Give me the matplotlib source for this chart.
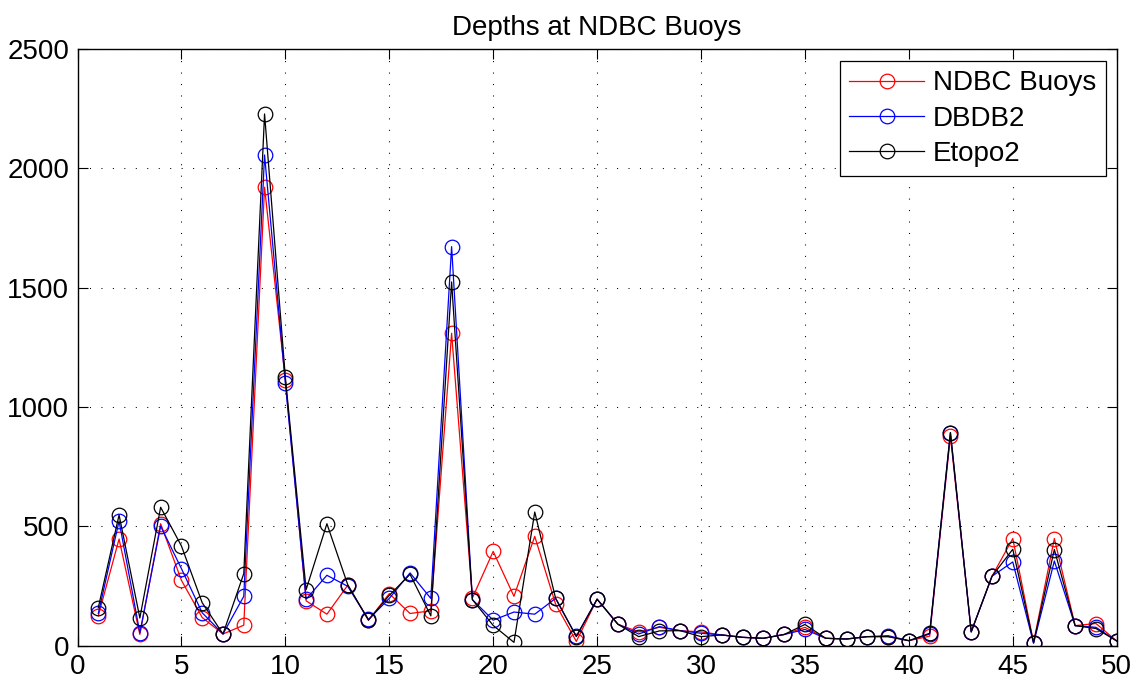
import matplotlib
matplotlib.use('Agg')
import matplotlib.pyplot as plt

# 浮标编号
buoy_idx = list(range(1, 51))

# 三种来源的水深
ndbc_depth = [125, 447, 47, 511, 274, 118, 49, 86, 1921, 1115,
              188, 132, 253, 107, 218, 135, 146, 1309, 200, 395,
              207, 458, 175, 18, 195, 90, 58, 77, 63, 58,
              45, 35, 31, 47, 77, 31, 28, 38, 38, 21,
              40, 878, 58, 291, 449, 13, 449, 84, 93, 20]
dbdb2_depth = [135, 522, 54, 501, 323, 138, 49, 207, 2056, 1100,
               195, 295, 249, 110, 198, 305, 198, 1672, 193, 107,
               141, 132, 198, 40, 195, 90, 49, 80, 63, 52,
               45, 35, 31, 47, 68, 31, 28, 38, 42, 21,
               49, 893, 58, 291, 351, 10, 355, 84, 77, 20]
etopo2_depth = [159, 548, 116, 580, 418, 180, 49, 302, 2228, 1125,
                235, 511, 256, 107, 211, 299, 125, 1524, 193, 85,
                14, 560, 200, 38, 195, 90, 38, 62, 63, 38,
                45, 35, 31, 47, 89, 31, 28, 38, 38, 21,
                52, 893, 58, 291, 404, 13, 403, 84, 72, 20]

series_labels = ['NDBC Buoys', 'DBDB2', 'Etopo2']
series_colors = ['red', 'blue', 'black']

plt.rcParams['font.family'] = ['Liberation Sans', 'DejaVu Sans']

fig = plt.figure(figsize=(11.38, 6.88), dpi=100)
ax = fig.add_axes([77.5 / 1138, 1 - 645.7 / 688, (1116.7 - 77.5) / 1138, (645.7 - 49) / 688])

# 绘制三条曲线
for vals, lab, col in zip([ndbc_depth, dbdb2_depth, etopo2_depth], series_labels, series_colors):
    ax.plot(buoy_idx, vals, '-o', color=col, label=lab, linewidth=0.9,
            markersize=10.5, markerfacecolor='none', markeredgecolor=col, markeredgewidth=0.9)

ax.set_xlim(0, 50)
ax.set_ylim(0, 2500)
ax.set_xticks(range(0, 51, 5))
ax.set_yticks(range(0, 2501, 500))
ax.tick_params(direction='in', length=7, width=0.8, labelsize=20, top=True, right=True, pad=6)
for s in ax.spines.values():
    s.set_linewidth(1.0)

# MATLAB 风格的点状网格
ax.grid(True, color='black', linestyle=(0, (1, 10)), linewidth=0.75)
ax.set_axisbelow(True)

ax.set_title('Depths at NDBC Buoys', fontsize=20, pad=10)

leg = ax.legend(loc='upper right', fontsize=20, fancybox=False, framealpha=1,
                edgecolor='black', borderaxespad=0,
                bbox_to_anchor=((1105.7 - 77.5) / (1116.7 - 77.5), 1 - (60.7 - 49) / (645.7 - 49)),
                handlelength=2.7, handletextpad=0.3, labelspacing=0.33, borderpad=0.35)
leg.get_frame().set_linewidth(0.9)

fig.savefig('out.png', dpi=100)
